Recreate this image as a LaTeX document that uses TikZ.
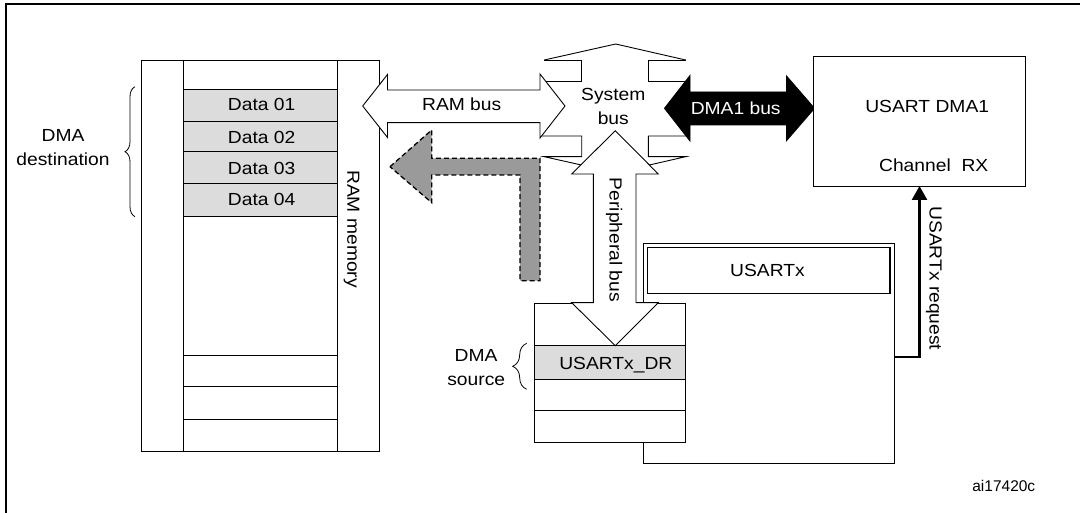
\documentclass[tikz,border=0pt]{standalone}
\usepackage{fontspec}
\setmainfont{Liberation Sans}[FakeStretch=1.1]
\newfontfamily\tagfont{Liberation Sans}
\usetikzlibrary{decorations.pathreplacing,arrows.meta}
\definecolor{cellgray}{HTML}{DCDCDC}
\definecolor{dashgray}{HTML}{9A9A9A}
\newcommand\bx[7]{\node[#6, minimum width={(#4)-(#2)}, minimum height={(#5)-(#3)}] (#1) at ({((#2)+(#4))/2},{((#3)+(#5))/2}) {#7};}
\tikzset{
  box/.style={draw, fill=white, inner sep=0pt, outer sep=0pt},
  gbox/.style={draw, fill=cellgray, inner sep=0pt, outer sep=0pt},
  lbl/.style={inner sep=0pt, anchor=base, font=\fontsize{17.5}{20}\selectfont},
  rlbl/.style={inner sep=0pt, anchor=base, rotate=-90, font=\fontsize{17.5}{20}\selectfont},
  bus/.style={draw, fill=white, line join=miter},
  blackbus/.style={draw, fill=black, line join=miter},
  movearrow/.style={draw, fill=dashgray, dash pattern=on 5pt off 3pt, line width=1.3pt},
  req/.style={line width=2.5pt, -{Triangle[length=14pt,width=15pt]}},
  brc/.style={decorate, line width=0.8pt},
}
\begin{document}
\begin{tikzpicture}[x=1pt, y=-1pt, line width=0.9pt]
\useasboundingbox (0,0) rectangle (1080,513);
% frame
\draw[line width=2pt] (6,530) -- (6,4.3) -- (1100,4.3);

% RAM memory
\bx{ram}{141.7}{60.3}{379}{451}{box}{}
\bx{r0}{183.7}{60.3}{337}{89.3}{box}{}
\bx{d1}{183.7}{89.3}{337}{121}{gbox}{}
\bx{d2}{183.7}{121}{337}{151.7}{gbox}{}
\bx{d3}{183.7}{151.7}{337}{183.7}{gbox}{}
\bx{d4}{183.7}{183.7}{337}{216.7}{gbox}{}
\bx{r5}{183.7}{216.7}{337}{355}{box}{}
\bx{r6}{183.7}{355}{337}{386.7}{box}{}
\bx{r7}{183.7}{386.7}{337}{419}{box}{}
\bx{r8}{183.7}{419}{337}{451}{box}{}
\node[lbl] (t1) at (261.7,111) {Data 01};
\node[lbl] (t2) at (261.7,143.7) {Data 02};
\node[lbl] (t3) at (261.7,175) {Data 03};
\node[lbl] (t4) at (261.7,205.7) {Data 04};
\node[rlbl] (ramlbl) at (347.3,229) {RAM memory};

% DMA destination
\draw[brc, decoration={brace, amplitude=10pt}] (135,216.7) -- (135,86.7);
\node[lbl] (dst1) at (63,141.7) {DMA};
\node[lbl] (dst2) at (63,165.7) {destination};

% System bus outline
\draw[line join=miter] (544.3,60) -- (615.7,44) -- (685.7,60);
\draw (544.3,60) -- (581.7,60) -- (581.7,81.7) -- (542,81.7);
\draw (685.7,60) -- (648.3,60) -- (648.3,81.7) -- (688,81.7);
\draw[line join=miter] (542,136) -- (581.7,136) -- (581.7,156.7) -- (544.3,156.7) -- (615.7,172.7) -- (685.7,156.7) -- (648.3,156.7) -- (648.3,136) -- (688,136);
\node[lbl] (sys1) at (613.3,101) {System};
\node[lbl] (sys2) at (613.3,124.3) {bus};

% RAM bus
\path[bus] (362.7,106) -- (387.5,74.5) -- (387.5,90) -- (540,90) -- (540,74) -- (565,106) -- (540,138) -- (540,122.7) -- (387.5,122.7) -- (387.5,137.5) -- cycle;
\node[lbl] (rambus) at (461.7,111) {RAM bus};

% DMA1 bus
\path[blackbus] (664.5,108.3) -- (690,75.5) -- (690,92) -- (786.5,92) -- (786.5,76) -- (814.5,108.3) -- (786.5,140.7) -- (786.5,125) -- (690,125) -- (690,141) -- cycle;
\node[lbl, text=white] (dmabus) at (735.7,114.3) {DMA1 bus};

% USART DMA1 box
\bx{dmabox}{813.3}{56.7}{1025.7}{186}{box}{}
\node[lbl] (dmat1) at (927.2,112.7) {USART DMA1};
\node[lbl] (dmat2) at (933.7,171.7) {Channel\ \ RX};

% USARTx peripheral
\bx{usartout}{643.3}{243}{894}{463.3}{box}{}
\bx{usartin}{647.7}{247.7}{890}{293.3}{box, line width=1.4pt}{}
\node[lbl] (usartlbl) at (767.5,276.7) {USARTx};

% register block
\bx{g0}{534.3}{303.3}{685.7}{345}{box}{}
\bx{gdr}{534.3}{345}{685.7}{379}{gbox}{}
\bx{g2}{534.3}{379}{685.7}{410.7}{box}{}
\bx{g3}{534.3}{410.7}{685.7}{442.7}{box}{}
\node[lbl] (drlbl) at (615.8,370) {USARTx\_DR};

% DMA source
\draw[brc, decoration={brace, amplitude=14pt}] (526.7,389.3) -- (526.7,343.3);
\node[lbl] (src1) at (476,361.7) {DMA};
\node[lbl] (src2) at (476.2,385) {source};

% Peripheral bus
\path[bus] (615.3,130.7) -- (658.3,174) -- (636,174) -- (636,302.7) -- (658.3,302.7) -- (615.3,345.7) -- (571.7,302.7) -- (593.3,302.7) -- (593.3,174) -- (571.7,174) -- cycle;
\node[rlbl] (perlbl) at (609.5,240) {Peripheral bus};

% data movement arrow
\path[movearrow] (390,166.7) -- (431.7,130) -- (431.7,158.3) -- (540,158.3) -- (540,280.7) -- (520,280.7) -- (520,175) -- (431.7,175) -- (431.7,202.7) -- cycle;

% USARTx request
\draw[req] ([yshift=-3.7pt]usartout.east) -| (dmabox.south);
\node[rlbl] (reqlbl) at (929.5,278.3) {USARTx request};

\node[inner sep=0pt, anchor=base, font=\tagfont\fontsize{15.5}{18}\selectfont] (tag) at (1003.8,491.7) {ai17420c};
\end{tikzpicture}
\end{document}
